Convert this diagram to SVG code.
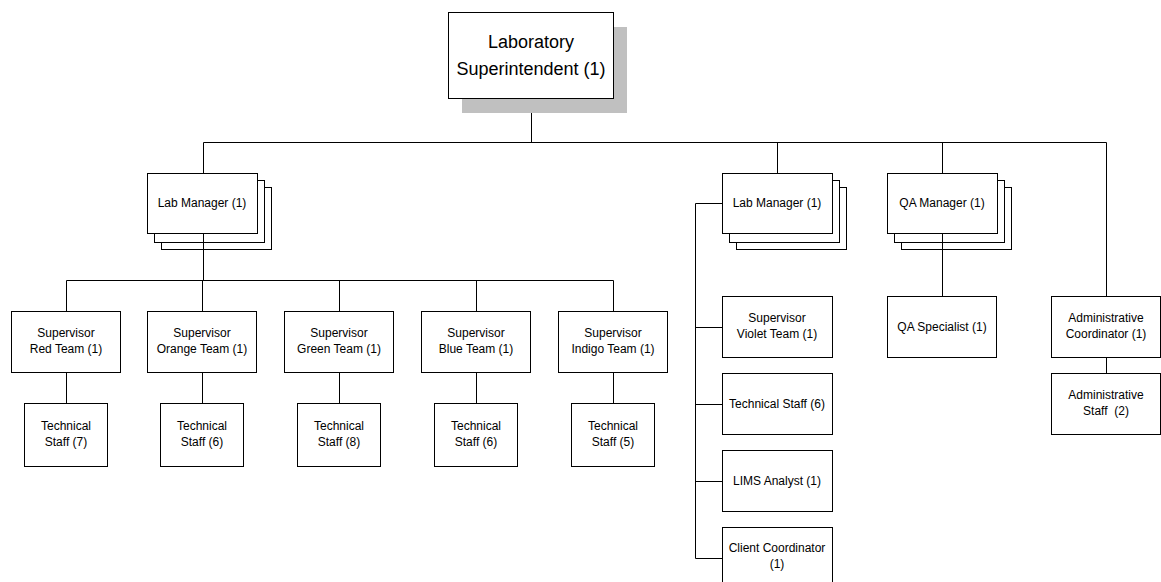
<svg xmlns="http://www.w3.org/2000/svg" width="1161" height="582" viewBox="0 0 1161 582">
<style>
.box{fill:#fff;stroke:#000;stroke-width:1}
.shadow{fill:#c0c0c0;stroke:none}
.t{font-family:"Liberation Sans",Arial,sans-serif;font-size:12px;fill:#000;text-anchor:middle;white-space:pre}
.tl{font-family:"Liberation Sans",Arial,sans-serif;font-size:18px;fill:#000;text-anchor:middle}
.c{fill:none;stroke:#000;stroke-width:1}
</style>
<rect width="1161" height="582" fill="#fff"/>
<g id="superintendent">
<rect class="shadow" x="462" y="27" width="165" height="86"/>
<rect class="box" x="448.5" y="12.5" width="165" height="86"/>
<text class="tl" x="531" y="48">Laboratory</text>
<text class="tl" x="531" y="75">Superintendent (1)</text>
</g>
<g id="labmgr1">
<rect class="box" x="161.5" y="187.5" width="110" height="62"/>
<rect class="box" x="154.5" y="180.5" width="110" height="62"/>
<rect class="box" x="147.5" y="173.5" width="110" height="60"/>
<text class="t" x="202" y="207">Lab Manager (1)</text>
</g>
<g id="labmgr2">
<rect class="box" x="736.5" y="187.5" width="110" height="62"/>
<rect class="box" x="729.5" y="180.5" width="110" height="62"/>
<rect class="box" x="722.5" y="173.5" width="110" height="60"/>
<text class="t" x="777" y="207">Lab Manager (1)</text>
</g>
<g id="qamgr">
<rect class="box" x="901.5" y="187.5" width="110" height="62"/>
<rect class="box" x="894.5" y="180.5" width="110" height="62"/>
<rect class="box" x="887.5" y="173.5" width="110" height="60"/>
<text class="t" x="942" y="207">QA Manager (1)</text>
</g>
<g id="sup-red">
<rect class="box" x="11.5" y="311.5" width="109" height="61"/>
<text class="t" x="66" y="337">Supervisor</text>
<text class="t" x="66" y="353">Red Team (1)</text>
</g>
<g id="sup-orange">
<rect class="box" x="147.5" y="311.5" width="109" height="61"/>
<text class="t" x="202" y="337">Supervisor</text>
<text class="t" x="202" y="353">Orange Team (1)</text>
</g>
<g id="sup-green">
<rect class="box" x="284.5" y="311.5" width="109" height="61"/>
<text class="t" x="339" y="337">Supervisor</text>
<text class="t" x="339" y="353">Green Team (1)</text>
</g>
<g id="sup-blue">
<rect class="box" x="421.5" y="311.5" width="109" height="61"/>
<text class="t" x="476" y="337">Supervisor</text>
<text class="t" x="476" y="353">Blue Team (1)</text>
</g>
<g id="sup-indigo">
<rect class="box" x="558.5" y="311.5" width="109" height="61"/>
<text class="t" x="613" y="337">Supervisor</text>
<text class="t" x="613" y="353">Indigo Team (1)</text>
</g>
<g id="tech-red">
<rect class="box" x="24.5" y="403.5" width="83" height="63"/>
<text class="t" x="66" y="430">Technical</text>
<text class="t" x="66" y="446">Staff (7)</text>
</g>
<g id="tech-orange">
<rect class="box" x="160.5" y="403.5" width="83" height="63"/>
<text class="t" x="202" y="430">Technical</text>
<text class="t" x="202" y="446">Staff (6)</text>
</g>
<g id="tech-green">
<rect class="box" x="297.5" y="403.5" width="83" height="63"/>
<text class="t" x="339" y="430">Technical</text>
<text class="t" x="339" y="446">Staff (8)</text>
</g>
<g id="tech-blue">
<rect class="box" x="434.5" y="403.5" width="83" height="63"/>
<text class="t" x="476" y="430">Technical</text>
<text class="t" x="476" y="446">Staff (6)</text>
</g>
<g id="tech-indigo">
<rect class="box" x="571.5" y="403.5" width="83" height="63"/>
<text class="t" x="613" y="430">Technical</text>
<text class="t" x="613" y="446">Staff (5)</text>
</g>
<g id="sup-violet">
<rect class="box" x="722.5" y="296.5" width="110" height="61"/>
<text class="t" x="777" y="322">Supervisor</text>
<text class="t" x="777" y="338">Violet Team (1)</text>
</g>
<g id="tech-violet">
<rect class="box" x="722.5" y="373.5" width="110" height="61"/>
<text class="t" x="777" y="408">Technical Staff (6)</text>
</g>
<g id="lims">
<rect class="box" x="722.5" y="450.5" width="110" height="61"/>
<text class="t" x="777" y="485">LIMS Analyst (1)</text>
</g>
<g id="client">
<rect class="box" x="722.5" y="527.5" width="110" height="61"/>
<text class="t" x="777" y="552">Client Coordinator</text>
<text class="t" x="777" y="568">(1)</text>
</g>
<g id="qaspec">
<rect class="box" x="887.5" y="296.5" width="109" height="61"/>
<text class="t" x="942" y="331">QA Specialist (1)</text>
</g>
<g id="admincoord">
<rect class="box" x="1051.5" y="296.5" width="109" height="61"/>
<text class="t" x="1106" y="322">Administrative</text>
<text class="t" x="1106" y="338">Coordinator (1)</text>
</g>
<g id="adminstaff">
<rect class="box" x="1051.5" y="373.5" width="109" height="61"/>
<text class="t" x="1106" y="399">Administrative</text>
<text class="t" x="1106" y="415" xml:space="preserve">Staff  (2)</text>
</g>
<g id="connectors">
<path class="c" d="M531.5 113V142.5M203.5 142.5H1106.5M203.5 142.5V173M777.5 142.5V173M942.5 142.5V173M1106.5 142.5V296"/>
<path class="c" d="M203.5 234V280.5M66.5 280.5H613.5M66.5 280.5V311M202.5 280.5V311M339.5 280.5V311M476.5 280.5V311M613.5 280.5V311"/>
<path class="c" d="M66.5 373V403M202.5 373V403M339.5 373V403M476.5 373V403M613.5 373V403"/>
<path class="c" d="M722 203.5H695.5V558.5H722M695.5 327.5H722M695.5 404.5H722M695.5 481.5H722"/>
<path class="c" d="M942.5 234V296M1106.5 358V373"/>
</g>
</svg>
